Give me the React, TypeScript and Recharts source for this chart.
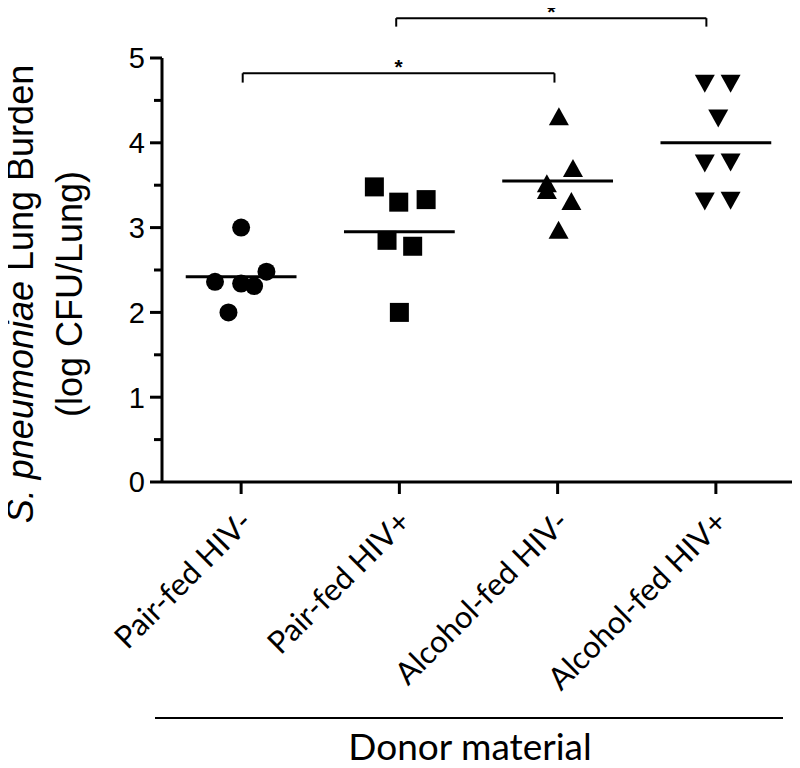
import React from 'react';
import { ScatterChart, Scatter, XAxis, YAxis, ReferenceLine } from 'recharts';

const categories = ['Pair-fed HIV-', 'Pair-fed HIV+', 'Alcohol-fed HIV-', 'Alcohol-fed HIV+'];

const pairNegValues = [3.0, 2.0, 2.36, 2.34, 2.31, 2.48];
const pairNegOffsets = [0, -0.08, -0.165, 0, 0.082, 0.16];

const pairPosValues = [3.48, 3.3, 3.33, 2.85, 2.78, 2.0];
const pairPosOffsets = [-0.158, -0.004, 0.169, -0.078, 0.084, 0];

const alcNegValues = [4.29, 3.5, 3.68, 3.42, 3.29, 2.95];
const alcNegOffsets = [0.008, -0.068, 0.097, -0.068, 0.087, 0.006];

const alcPosValues = [4.72, 4.72, 4.31, 3.78, 3.79, 3.33, 3.34];
const alcPosOffsets = [-0.07, 0.093, 0.015, -0.07, 0.093, -0.07, 0.093];

const groupMeans = [2.42, 2.95, 3.55, 4.0];

const yTicks = [0, 0.5, 1, 1.5, 2, 2.5, 3, 3.5, 4, 4.5, 5];
const xTicks = [1, 2, 3, 4];

const yLabelItalic = 'S. pneumoniae';
const yLabelRest = ' Lung Burden';
const yLabelLine2 = '(log CFU/Lung)';
const xLabelText = 'Donor material';
const sigMark = '*';

// significance brackets
const bracketLower = { from: 1.01, to: 2.98, level: 4.82, tip: 4.71 };
const bracketUpper = { from: 1.98, to: 3.94, level: 5.47, tip: 5.37 };

const toPoints = (values: number[], offsets: number[], idx: number) =>
  values.map((v, i) => ({ x: idx + offsets[i], y: v }));

const sPairNeg = toPoints(pairNegValues, pairNegOffsets, 1);
const sPairPos = toPoints(pairPosValues, pairPosOffsets, 2);
const sAlcNeg = toPoints(alcNegValues, alcNegOffsets, 3);
const sAlcPos = toPoints(alcPosValues, alcPosOffsets, 4);

const CircleShape = (p: any) => <circle cx={p.cx} cy={p.cy} r={9} fill="#000" />;
const SquareShape = (p: any) => <rect x={p.cx - 9.5} y={p.cy - 9.5} width={19} height={19} fill="#000" />;
const TriUpShape = (p: any) => (
  <path d={`M${p.cx},${p.cy - 11} L${p.cx + 10},${p.cy + 7} L${p.cx - 10},${p.cy + 7} Z`} fill="#000" />
);
const TriDownShape = (p: any) => (
  <path d={`M${p.cx},${p.cy + 11} L${p.cx + 10},${p.cy - 7} L${p.cx - 10},${p.cy - 7} Z`} fill="#000" />
);

const YTick = (props: any) => {
  const { x, y, payload } = props;
  const major = Number.isInteger(payload.value);
  return (
    <g>
      <line x1={x - (major ? 12 : 8)} x2={x} y1={y} y2={y} stroke="#000" strokeWidth={3} />
      {major && (
        <text x={x - 17} y={y} dy="0.36em" textAnchor="end" fontSize={29} fontFamily="Liberation Sans" fill="#000">
          {payload.value}
        </text>
      )}
    </g>
  );
};

const XTick = (props: any) => {
  const { x, y, payload } = props;
  return (
    <g>
      <line x1={x} x2={x} y1={y} y2={y + 12} stroke="#000" strokeWidth={3} />
      <text
        transform={`translate(${x + 13},${y + 42}) rotate(-45)`}
        textAnchor="end"
        fontSize={31}
        fontFamily="Lato"
        fill="#000"
      >
        {categories[payload.value - 1]}
      </text>
    </g>
  );
};

const XLabel = () => (
  <g>
    <line x1={155} x2={783} y1={718} y2={718} stroke="#000" strokeWidth={2} />
    <text x={470} y={760} textAnchor="middle" fontSize={37} fontFamily="Lato" fill="#000">
      {xLabelText}
    </text>
  </g>
);

const YLabel = () => (
  <g>
    <text
      transform="translate(33,294) rotate(-90)"
      textAnchor="middle"
      fontSize={36}
      fontFamily="Liberation Sans"
      fill="#000"
    >
      <tspan fontStyle="italic">{yLabelItalic}</tspan>
      {yLabelRest}
    </text>
    <text
      transform="translate(82,294) rotate(-90)"
      textAnchor="middle"
      fontSize={36}
      fontFamily="Liberation Sans"
      fill="#000"
    >
      {yLabelLine2}
    </text>
  </g>
);

const StarLabel = (props: any) => {
  const vb = props.viewBox || {};
  return (
    <text
      x={vb.x + (vb.width || 0) / 2}
      y={vb.y + 1}
      textAnchor="middle"
      fontSize={21}
      fontWeight="bold"
      fontFamily="Liberation Sans"
      fill="#000"
    >
      {sigMark}
    </text>
  );
};

const bracketLines = (b: { from: number; to: number; level: number; tip: number }, key: string) => [
  <ReferenceLine
    key={key + 'h'}
    segment={[{ x: b.from, y: b.level }, { x: b.to, y: b.level }]}
    stroke="#000"
    strokeWidth={2}
    ifOverflow="visible"
    label={{ content: <StarLabel /> } as any}
  />,
  <ReferenceLine
    key={key + 'l'}
    segment={[{ x: b.from, y: b.level }, { x: b.from, y: b.tip }]}
    stroke="#000"
    strokeWidth={2}
    ifOverflow="visible"
  />,
  <ReferenceLine
    key={key + 'r'}
    segment={[{ x: b.to, y: b.level }, { x: b.to, y: b.tip }]}
    stroke="#000"
    strokeWidth={2}
    ifOverflow="visible"
  />,
];

export default function App() {
  return (
    <div style={{ width: 800, height: 768, background: '#fff', marginTop: -8, marginLeft: -8 }}>
      <ScatterChart width={800} height={768} margin={{ top: 58, right: 5, bottom: 0, left: 0 }}>
        <XAxis
          type="number"
          dataKey="x"
          domain={[0.5, 4.5]}
          ticks={xTicks}
          interval={0}
          tick={<XTick />}
          tickLine={false}
          tickSize={0}
          tickMargin={0}
          axisLine={{ stroke: '#000', strokeWidth: 3 }}
          height={286}
          label={{ content: <XLabel /> } as any}
        />
        <YAxis
          type="number"
          dataKey="y"
          domain={[0, 5]}
          ticks={yTicks}
          interval={0}
          tick={<YTick />}
          tickLine={false}
          tickSize={0}
          tickMargin={0}
          axisLine={{ stroke: '#000', strokeWidth: 3 }}
          width={162}
          label={{ content: <YLabel /> } as any}
        />
        {groupMeans.map((m, i) => (
          <ReferenceLine
            key={'mean' + i}
            segment={[{ x: i + 1 - 0.35, y: m }, { x: i + 1 + 0.35, y: m }]}
            stroke="#000"
            strokeWidth={3}
          />
        ))}
        {bracketLines(bracketLower, 'bl')}
        {bracketLines(bracketUpper, 'bu')}
        <Scatter data={sPairNeg} shape={CircleShape} isAnimationActive={false} />
        <Scatter data={sPairPos} shape={SquareShape} isAnimationActive={false} />
        <Scatter data={sAlcNeg} shape={TriUpShape} isAnimationActive={false} />
        <Scatter data={sAlcPos} shape={TriDownShape} isAnimationActive={false} />
      </ScatterChart>
    </div>
  );
}
